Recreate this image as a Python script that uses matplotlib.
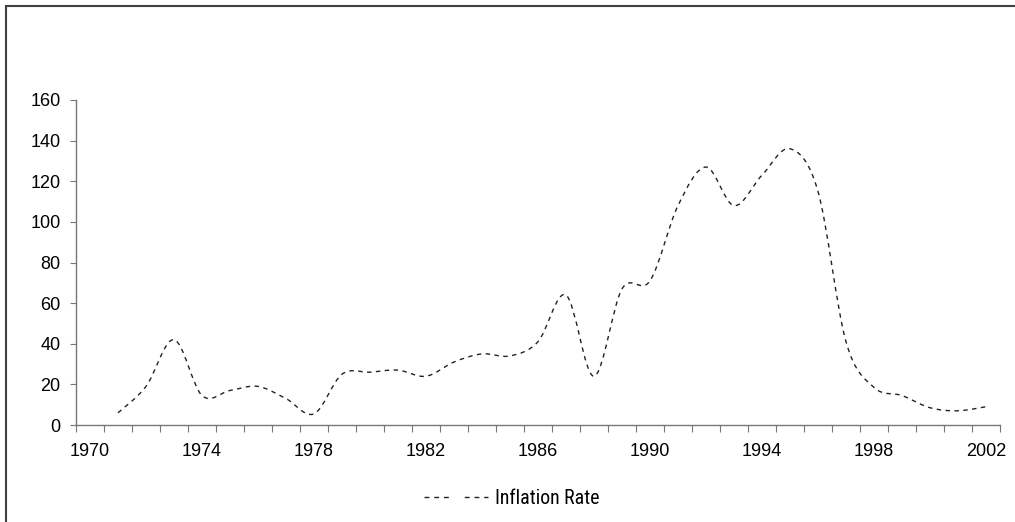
import numpy as np
import matplotlib
matplotlib.use('Agg')
import matplotlib.pyplot as plt
from matplotlib.path import Path
from matplotlib.patches import PathPatch, Rectangle
from matplotlib.lines import Line2D

# inflation rate (%), one value per year
years = list(range(1971, 2003))
inflation = [6, 19, 42, 14.5, 17, 19, 13, 5.5, 25, 26,
             27, 24, 31, 35, 34, 41, 64, 24, 67, 71,
             108, 127, 108, 123, 136, 115, 41, 18.5, 14.5, 8.5,
             7, 9]

label_years = list(range(1970, 2003, 4))
y_ticks = list(range(0, 161, 20))
series_name = 'Inflation Rate'

plt.rcParams['font.family'] = ['Liberation Sans', 'DejaVu Sans']

fig = plt.figure(figsize=(10.15, 5.22), dpi=100)
ax = fig.add_axes([76/1015, 97/522, 924/1015, 325/522])

# smoothed line like the spreadsheet one (catmull-rom -> bezier)
pts = np.column_stack([years, inflation]).astype(float)
padded = np.vstack([pts[0], pts, pts[-1]])
verts = [pts[0]]
codes = [Path.MOVETO]
for i in range(len(pts) - 1):
    p0, p1, p2, p3 = padded[i], padded[i+1], padded[i+2], padded[i+3]
    verts += [p1 + (p2 - p0) / 6, p2 - (p3 - p1) / 6, p2]
    codes += [Path.CURVE4] * 3

line_col = '#222222'
ax.add_patch(PathPatch(Path(verts, codes), facecolor='none', edgecolor=line_col,
                       lw=1, linestyle=(0, (3.2, 3.2))))

ax.set_xlim(1969.5, 2002.5)
ax.set_ylim(0, 160)

for s in ['top', 'right']:
    ax.spines[s].set_visible(False)
for s in ['left', 'bottom']:
    ax.spines[s].set_color('#777777')
    ax.spines[s].set_linewidth(1)

# category boundaries get the tick marks, labels sit in between
ax.set_xticks(np.arange(1969.5, 2003, 1))
ax.set_xticklabels([])
ax.set_xticks(label_years, minor=True)
ax.set_xticklabels([str(y) for y in label_years], minor=True, fontsize=13)
ax.tick_params(axis='x', which='major', direction='out', length=5, color='#777777')
ax.tick_params(axis='x', which='minor', length=0, pad=13)

ax.set_yticks(y_ticks)
ax.set_yticklabels([str(v) for v in y_ticks], fontsize=13)
ax.tick_params(axis='y', direction='out', length=4, pad=7, color='#777777')

leg_size = 14.3
handle = Line2D([], [], color=line_col, lw=1,
                linestyle=(0, (3.5, 3.5, 3.5, 3.5, 3.5, 11.5)))
ax.legend([handle], [series_name], loc='center',
          bbox_to_anchor=(511.5/1015, 1 - 498/522), bbox_transform=fig.transFigure,
          frameon=False, handlelength=46/leg_size, handletextpad=0.35, borderpad=0,
          prop={'family': ['Roboto Condensed', 'Liberation Sans'], 'size': leg_size})

# outer chart frame, runs off the right and bottom edges
fig.add_artist(Rectangle((6/1015, -0.1), 1.2, (522 - 6)/522 + 0.1,
                         transform=fig.transFigure, fill=False,
                         edgecolor='#404040', lw=1.5, clip_on=False))

fig.savefig('out.png', dpi=100)
